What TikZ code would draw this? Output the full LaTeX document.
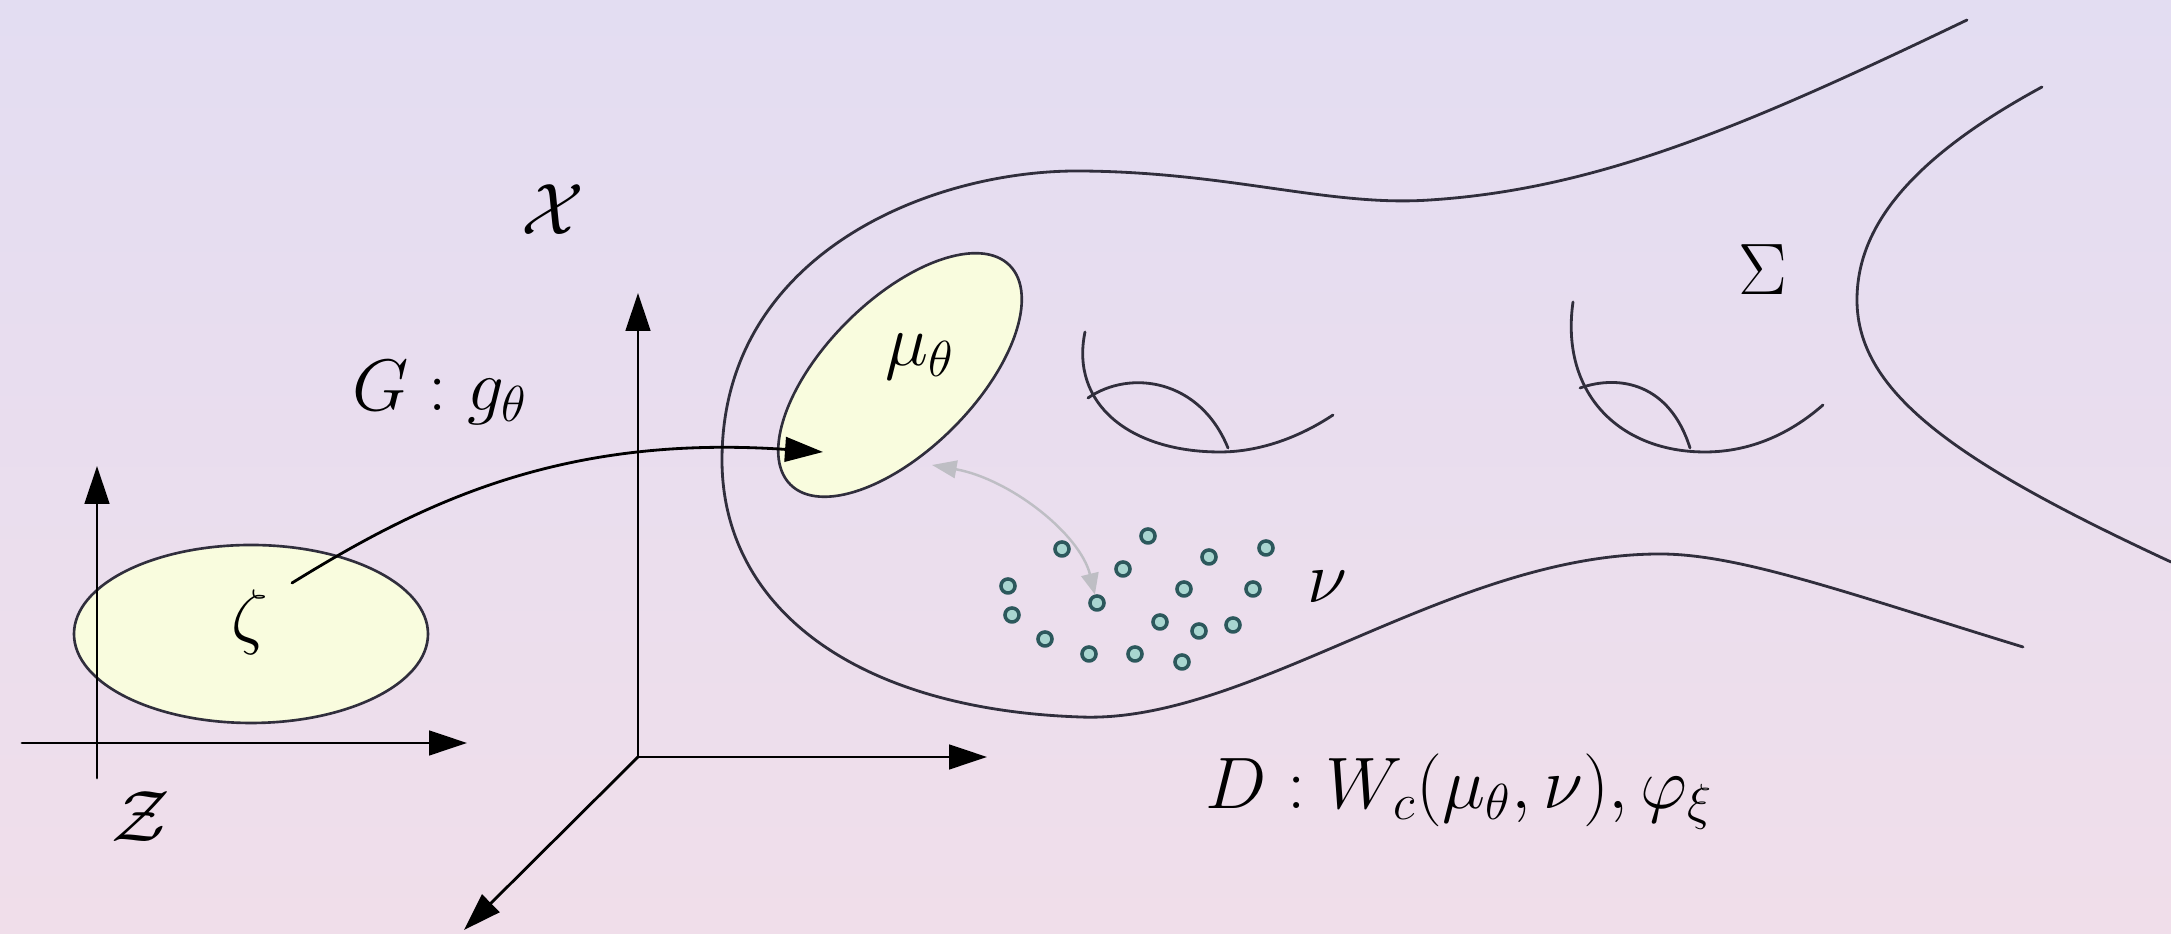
\documentclass[tikz,border=0pt]{standalone}
\usetikzlibrary{arrows.meta}
\definecolor{bgtop}{RGB}{227,221,242}
\definecolor{bgbot}{RGB}{240,222,234}
\definecolor{blobfill}{RGB}{249,252,222}
\definecolor{inkgray}{RGB}{48,46,60}
\definecolor{ringteal}{RGB}{44,88,92}
\definecolor{ringfill}{RGB}{168,214,208}
\definecolor{pullgray}{RGB}{190,190,196}

\begin{document}
\begin{tikzpicture}[x=0.01cm,y=0.01cm,line cap=round,line join=round,
  every node/.style={inner sep=1pt,font=\fontsize{20.7}{25}\selectfont},
  tip/.style={-{Triangle[length=10.8pt,width=7pt]}},
  edge/.style={inkgray,line width=0.8pt},
  sample/.style={circle,draw=ringteal,fill=ringfill,line width=1pt,minimum size=4pt,inner sep=0pt}]
  \useasboundingbox (0,0) rectangle (2171,934);
  \shade[top color=bgtop,bottom color=bgbot] (0,0) rectangle (2171,934);

  \filldraw[fill=blobfill,draw=inkgray,line width=0.75pt] (251,300) ellipse [x radius=177,y radius=89];
  \filldraw[fill=blobfill,draw=inkgray,line width=0.75pt,rotate around={45:(900,559)}] (900,559) ellipse [x radius=155,y radius=75];

  \draw[edge] (1967,914) .. controls (1750,810) and (1600,745) .. (1430,734)
    .. controls (1330,727) and (1230,762) .. (1080,763)
    .. controls (930,764) and (722,680) .. (722,474)
    .. controls (722,330) and (850,225) .. (1080,217)
    .. controls (1250,210) and (1450,380) .. (1660,380)
    .. controls (1740,380) and (1850,340) .. (2023,287);
  \draw[edge] (2042,847) .. controls (1900,770) and (1857,700) .. (1857,634)
    .. controls (1857,540) and (1960,470) .. (2171,372);

  \draw[edge] (1085,602) .. controls (1070,530) and (1130,482) .. (1220,482)
    .. controls (1260,482) and (1300,497) .. (1333,519);
  \draw[edge] (1088,536) .. controls (1130,565) and (1200,555) .. (1228,486);
  \draw[edge] (1573,632) .. controls (1560,540) and (1620,482) .. (1705,482)
    .. controls (1750,482) and (1790,500) .. (1823,529);
  \draw[edge] (1580,546) .. controls (1620,560) and (1670,550) .. (1690,486);

  \coordinate (zbot) at (97,156);
  \coordinate (ztop) at (97,468);
  \coordinate (zleft) at (22,191);
  \coordinate (zright) at (467,191);
  \draw[tip,line width=0.8pt] (zbot) -- (ztop);
  \draw[tip,line width=0.8pt] (zleft) -- (zright);

  \coordinate (xo) at (638,177);
  \coordinate (xup) at (638,641);
  \coordinate (xright) at (987,177);
  \coordinate (xdown) at (464,4);
  \draw[tip,line width=0.8pt] (xo) -- (xup);
  \draw[tip,line width=0.8pt] (xo) -- (xright);
  \draw[tip,line width=0.8pt] (xo) -- (xdown);

  \coordinate (gfrom) at (292,351);
  \coordinate (gto) at (823,482);
  \draw[tip,line width=0.8pt] (gfrom) .. controls (420,430) and (560,500) .. (gto);

  \foreach \x/\y [count=\i] in {1062/385,1148/398,1266/386,1209/377,1123/365,1008/348,
      1184/345,1253/345,1097/331,1012/319,1160/312,1199/303,1233/309,1045/295,
      1089/280,1135/280,1182/272}{
    \node[sample] (d\i) at (\x,\y) {};
  }
  \coordinate (pulltip) at (932,469);
  \draw[pullgray,line width=0.7pt,{Triangle[length=7pt,width=5pt]}-{Triangle[length=6pt,width=5pt]}]
    (pulltip) .. controls (1010,455) and (1080,400) .. (d9);

  \node (xlab) at (553,724) {$\mathcal{X}$};
  \node (zlab) at (141,117) {$\mathcal{Z}$};
  \node (glab) at (440,541) {$G: g_\theta$};
  \node (zeta) at (250,312) {$\zeta$};
  \node (mu) at (920,577) {$\mu_\theta$};
  \node (nu) at (1327,347) {$\nu$};
  \node (sigma) at (1763,664) {$\Sigma$};
  \node[anchor=base west,inner sep=0pt,font=\fontsize{21.6}{26}\selectfont] (dlab) at (1205,125) {$D: W_c(\mu_\theta,\nu),\varphi_\xi$};
\end{tikzpicture}
\end{document}
